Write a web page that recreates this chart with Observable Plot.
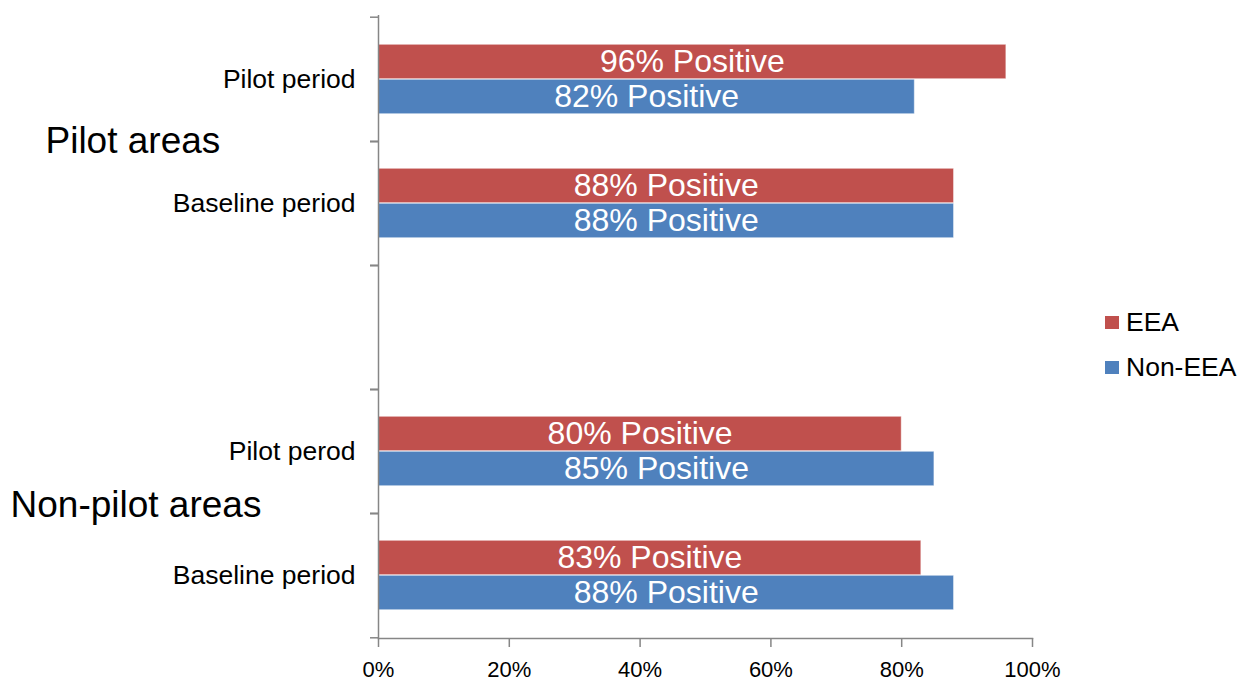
<!DOCTYPE html>
<html>
<head>
<meta charset="utf-8">
<script src="https://cdn.jsdelivr.net/npm/d3@7"></script>
<script src="https://cdn.jsdelivr.net/npm/@observablehq/plot@0.6"></script>
<style>
  html, body { margin: 0; padding: 0; background: #fff; }
  #wrap { position: relative; width: 1239px; height: 681px; overflow: hidden; font-family: "Liberation Sans", Arial, sans-serif; }
  #legend { position: absolute; left: 1105px; top: 300px; font-size: 26.5px; color: #000; }
  #legend .item { display: flex; align-items: center; height: 45px; }
  #legend .sw { width: 14px; height: 13px; margin-right: 7px; }
</style>
</head>
<body>
<div id="wrap">
  <div id="chart"></div>
  <div id="legend"></div>
</div>
<script>
// ---- data ----
const groups = ["PA_pilot", "PA_base", "gap", "NP_pilot", "NP_base"];
const groupLabels = ["Pilot period", "Baseline period", "", "Pilot perod", "Baseline period"];
const eeaValues = [96, 88, null, 80, 83];
const nonEeaValues = [82, 88, null, 85, 88];
const areaLabels = [
  {group: "PA_pilot", text: "Pilot areas"},
  {group: "NP_pilot", text: "Non-pilot areas"}
];
const xTicks = [0, 20, 40, 60, 80, 100];
const seriesNames = ["EEA", "Non-EEA"];
const seriesColors = ["#C0504D", "#4F81BD"];

// ---- layout ----
const W = 1239, H = 681;
const mTop = 15, mBottom = 43, mLeft = 378, mRight = 207;
const band = (H - mTop - mBottom) / groups.length;
const axisGray = "#868686";
const font = "'Liberation Sans', Arial, sans-serif";

const eea = groups.map((g, i) => ({group: g, value: eeaValues[i]})).filter(d => d.value != null);
const nonEea = groups.map((g, i) => ({group: g, value: nonEeaValues[i]})).filter(d => d.value != null);

const barH = 35;
const outer = (band - 2 * barH) / 2;
// label placement offsets (style only)
const areaDx = [-333, -368];
const areaDy = [band / 2 - 1, band / 2 - 9];

const chart = Plot.plot({
  width: W,
  height: H,
  marginTop: mTop,
  marginBottom: mBottom,
  marginLeft: mLeft,
  marginRight: mRight,
  style: {fontFamily: font, background: "white", overflow: "visible"},
  x: {domain: [0, 100], axis: null, label: null},
  y: {type: "band", domain: groups, padding: 0, axis: null, label: null},
  marks: [
    Plot.barX(eea, {x: "value", y: "group", fill: seriesColors[0], insetTop: outer, insetBottom: outer + barH,
      stroke: "white", strokeOpacity: 0.45, strokeWidth: 1}),
    Plot.barX(nonEea, {x: "value", y: "group", fill: seriesColors[1], insetTop: outer + barH, insetBottom: outer,
      stroke: "white", strokeOpacity: 0.45, strokeWidth: 1}),
    Plot.text(eea, {x: d => d.value / 2, y: "group", text: d => `${d.value}% Positive`, dy: -barH / 2,
      fill: "white", fontSize: 32}),
    Plot.text(nonEea, {x: d => d.value / 2, y: "group", text: d => `${d.value}% Positive`, dy: barH / 2,
      fill: "white", fontSize: 32}),
    // y axis line
    Plot.ruleX([0], {stroke: axisGray, strokeWidth: 1.5}),
    // x axis line
    Plot.frame({anchor: "bottom", stroke: axisGray, strokeWidth: 1.5}),
    // category labels
    Plot.axisY({tickSize: 0, tickPadding: 23, fontSize: 26.5, fill: "black", label: null,
      tickFormat: d => groupLabels[groups.indexOf(d)]}),
    // boundary ticks (top edges and bottom edges of each band)
    Plot.axisY({tickSize: 8, tickFormat: () => "", label: null, dy: -band / 2, stroke: axisGray, strokeWidth: 1.5}),
    Plot.axisY({tickSize: 8, tickFormat: () => "", label: null, dy: band / 2, stroke: axisGray, strokeWidth: 1.5}),
    // x axis
    Plot.axisX({ticks: xTicks, tickFormat: d => d + "%", tickSize: 9, tickPadding: 14, fontSize: 22,
      stroke: axisGray, strokeWidth: 1.5, fill: "black", label: null}),
    // area labels
    Plot.text([areaLabels[0]], {y: "group", text: "text", frameAnchor: "left", textAnchor: "start",
      dx: areaDx[0], dy: areaDy[0], fontSize: 37, fill: "black"}),
    Plot.text([areaLabels[1]], {y: "group", text: "text", frameAnchor: "left", textAnchor: "start",
      dx: areaDx[1], dy: areaDy[1], fontSize: 37, fill: "black"})
  ]
});
document.getElementById("chart").appendChild(chart);

// legend
const legend = document.getElementById("legend");
seriesNames.forEach((name, i) => {
  const item = document.createElement("div");
  item.className = "item";
  item.innerHTML = `<span class="sw" style="background:${seriesColors[i]}"></span><span>${name}</span>`;
  legend.appendChild(item);
});
</script>
</body>
</html>
